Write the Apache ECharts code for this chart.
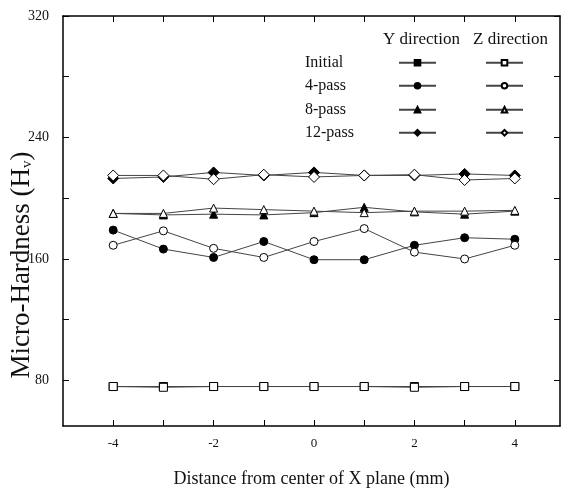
<!doctype html>
<html>
 <head>
  <meta charset="UTF-8">
  <script src="https://cdn.jsdelivr.net/npm/echarts@6/dist/echarts.min.js"></script>
  <title>Micro-Hardness</title>
 </head>
 <body style="margin:0">
  <div id="chart" style="height: 497px; width: 564px; margin: 0"></div>
 <script type="text/javascript">
    // distance from center (mm)
    var xPos = [-4, -3, -2, -1, 0, 1, 2, 3, 4];
    var initY = [76, 76, 76, 76, 76, 76, 76, 76, 76];
    var initZ = [76, 75.5, 76, 76, 76, 76, 75.5, 76, 76];
    var pass4Y = [179, 166.5, 161, 171.5, 159.5, 159.5, 169, 174, 173];
    var pass4Z = [169, 178.5, 167, 161, 171.5, 180, 164.5, 160, 169];
    var pass8Y = [190, 189, 189.5, 189, 190.5, 194, 191, 189.5, 191.5];
    var pass8Z = [190, 190, 193.5, 192.5, 191.5, 190.5, 191.5, 191.5, 192];
    var pass12Y = [213, 214, 217, 215, 217, 215, 215, 216, 215];
    var pass12Z = [215, 215, 212.5, 215.5, 214, 215, 215.5, 212, 213];
    var rowLabels = ['Initial', '4-pass', '8-pass', '12-pass'];
    var yLabels = [80, 160, 240, 320];
    var yTicks = [80, 120, 160, 200, 240, 280, 320];
    var xLabels = [-4, -2, 0, 2, 4];

    var font = '"Liberation Serif", "DejaVu Serif", serif';
    var pair = function (vals) {
        return xPos.map(function (x, i) { return [x, vals[i]]; });
    };
    var mk = function (name, vals, symbol, filled) {
        return {
            name: name,
            type: 'line',
            data: pair(vals),
            symbol: symbol,
            symbolSize: symbol == 'diamond' ? 11 : 8,
            showSymbol: true,
            lineStyle: { color: '#444', width: 1 },
            itemStyle: { color: filled ? '#000' : '#fff', borderColor: '#000', borderWidth: 1 },
            z: filled ? 2 : 3,
            animation: false
        };
    };
    var series = [
        mk('Initial Y', initY, 'rect', true),
        mk('4-pass Y', pass4Y, 'circle', true),
        mk('8-pass Y', pass8Y, 'triangle', true),
        mk('12-pass Y', pass12Y, 'diamond', true),
        mk('Initial Z', initZ, 'rect', false),
        mk('4-pass Z', pass4Z, 'circle', false),
        mk('8-pass Z', pass8Z, 'triangle', false),
        mk('12-pass Z', pass12Z, 'diamond', false)
    ];

    var rowTop = [59, 82, 106, 129];
    var legends = [];
    var graphics = [
        { type: 'text', left: 383, top: 31, style: { text: 'Y direction', font: '17px ' + font, fill: '#111' } },
        { type: 'text', left: 473, top: 31, style: { text: 'Z direction', font: '17px ' + font, fill: '#111' } },
        { type: 'text', x: 8, y: 265, rotation: Math.PI / 2,
          style: { text: 'Micro-Hardness (H{sub|v})', font: '27px ' + font, fill: '#111',
                   align: 'center', verticalAlign: 'top',
                   rich: { sub: { font: '15px ' + font, fill: '#111', padding: [12, 0, 0, 0] } } } }
    ];
    rowLabels.forEach(function (r, i) {
        graphics.push({ type: 'text', left: 305, top: rowTop[i] - 4, style: { text: r, font: '16px ' + font, fill: '#111' } });
        ['Y', 'Z'].forEach(function (d, j) {
            legends.push({
                data: [r + ' ' + d],
                left: j == 0 ? 398 : 485,
                top: rowTop[i],
                itemWidth: 37,
                itemHeight: 7,
                itemGap: 0,
                formatter: function () { return ''; },
                selectedMode: false,
                padding: 0
            });
        });
    });

    var myChart = echarts.init(document.getElementById('chart'));
    myChart.setOption({
        backgroundColor: '#fff',
        animation: false,
        textStyle: { fontFamily: font },
        grid: { left: 63, right: 4, top: 16, bottom: 71, containLabel: false, outerBoundsMode: 'none' },
        legend: legends,
        graphic: graphics,
        xAxis: [{
            type: 'value',
            min: -5,
            max: 4.9,
            name: 'Distance from center of X plane (mm)',
            nameLocation: 'middle',
            nameGap: 44,
            nameTextStyle: { fontSize: 18, color: '#111', fontFamily: font },
            axisLine: { onZero: false, lineStyle: { color: '#000', width: 1.5 } },
            axisTick: { inside: true, length: 6, customValues: xPos, lineStyle: { color: '#000' } },
            axisLabel: { customValues: xLabels, fontSize: 13, color: '#111', margin: 11, fontFamily: font,
                formatter: function (v) { return v < 0 ? '-' + Math.abs(v) : '' + v; } },
            splitLine: { show: false }
        }, {
            type: 'value',
            position: 'top',
            min: -5,
            max: 4.9,
            axisLine: { show: true, onZero: false, lineStyle: { color: '#000', width: 1.5 } },
            axisTick: { inside: true, length: 6, customValues: xPos, lineStyle: { color: '#000' } },
            axisLabel: { show: false },
            splitLine: { show: false }
        }],
        yAxis: [{
            type: 'value',
            min: 50,
            max: 320,
            axisLine: { show: true, onZero: false, lineStyle: { color: '#000', width: 1.5 } },
            axisTick: { inside: true, length: 6, customValues: yTicks, lineStyle: { color: '#000' } },
            axisLabel: { customValues: yLabels, fontSize: 14, color: '#111', margin: 14, fontFamily: font },
            splitLine: { show: false }
        }, {
            type: 'value',
            position: 'right',
            min: 50,
            max: 320,
            axisLine: { show: true, onZero: false, lineStyle: { color: '#000', width: 1.5 } },
            axisTick: { inside: true, length: 6, customValues: yTicks, lineStyle: { color: '#000' } },
            axisLabel: { show: false },
            splitLine: { show: false }
        }],
        series: series
    });
 </script>
 </body>
</html>
